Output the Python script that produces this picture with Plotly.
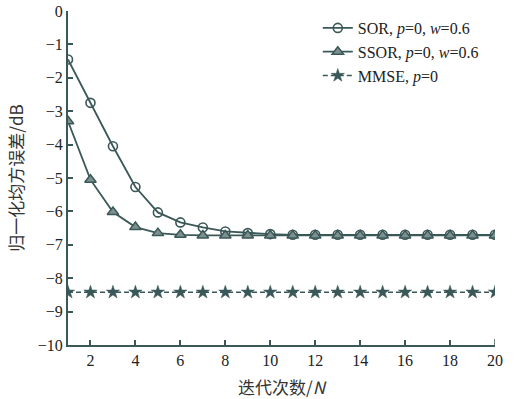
import plotly.graph_objects as go

N = list(range(1, 21))
sor = [-1.45, -2.75, -4.05, -5.27, -6.03, -6.33, -6.48, -6.6, -6.65, -6.68,
       -6.7, -6.7, -6.7, -6.7, -6.7, -6.7, -6.7, -6.7, -6.7, -6.7]
ssor = [-3.3, -5.05, -6.02, -6.47, -6.65, -6.7, -6.72, -6.72, -6.72, -6.72,
        -6.72, -6.72, -6.72, -6.72, -6.72, -6.72, -6.72, -6.72, -6.72, -6.72]
mmse = [-8.42] * 20

x_ticks = [2, 4, 6, 8, 10, 12, 14, 16, 18, 20]
y_ticks = list(range(-10, 1))

C = "#3b5858"
SERIF = "Liberation Serif, Times New Roman, serif"
CJK = "Noto Sans CJK SC, sans-serif"

fig = go.Figure()
fig.add_trace(go.Scatter(
    x=N, y=sor, mode="lines+markers", name="SOR, <i>p</i>=0, <i>w</i>=0.6",
    line=dict(color=C, width=1.8),
    marker=dict(symbol="circle-open", size=9, color=C, line=dict(width=1.6, color=C))))
fig.add_trace(go.Scatter(
    x=N, y=ssor, mode="lines+markers", name="SSOR, <i>p</i>=0, <i>w</i>=0.6",
    line=dict(color=C, width=1.8),
    marker=dict(symbol="triangle-up", size=10, color="#7d9090", line=dict(width=1.5, color=C))))
fig.add_trace(go.Scatter(
    x=N, y=mmse, mode="lines+markers", name="MMSE, <i>p</i>=0",
    line=dict(color=C, width=1.6, dash="5px,3px"),
    marker=dict(symbol="star", size=10, color=C, line=dict(width=0.5, color=C))))

fig.update_layout(
    width=521, height=399,
    margin=dict(l=67.5, r=26, t=10.7, b=53.7, autoexpand=False),
    paper_bgcolor="white", plot_bgcolor="white",
    showlegend=True,
    legend=dict(x=0.585, y=1.0, xanchor="left", yanchor="top",
                bgcolor="rgba(0,0,0,0)", font=dict(family=SERIF, size=16, color="#222"),
                tracegroupgap=0, itemwidth=30),
    font=dict(family=SERIF, size=16, color="#222"),
)
fig.update_xaxes(
    range=[1, 20], tickvals=x_ticks, ticks="inside", ticklen=5, tickwidth=1.5,
    tickcolor=C, showline=True, linecolor=C, linewidth=2, showgrid=False,
    zeroline=False, automargin=False, ticklabeloverflow="allow",
    tickfont=dict(family=SERIF, size=16, color="#222"),
    title=dict(text="迭代次数/<i>N</i>", font=dict(family=CJK, size=17, color="#333"), standoff=20),
)
fig.update_yaxes(
    range=[-10, 0], tickvals=y_ticks, ticks="inside", ticklen=5, tickwidth=1.5,
    tickcolor=C, showline=True, linecolor=C, linewidth=2, showgrid=False,
    zeroline=False, automargin=False, ticklabeloverflow="allow",
    tickfont=dict(family=SERIF, size=16, color="#222"),
    title=dict(text="归一化均方误差/dB", font=dict(family=CJK, size=17, color="#333"), standoff=10),
)
fig.add_shape(type="line", xref="x", yref="paper", x0=20, x1=20, y0=0, y1=0.018,
              line=dict(color=C, width=1.5))

fig.write_html("out.html", config={"displayModeBar": False},
               post_script="document.body.style.margin='0';")
